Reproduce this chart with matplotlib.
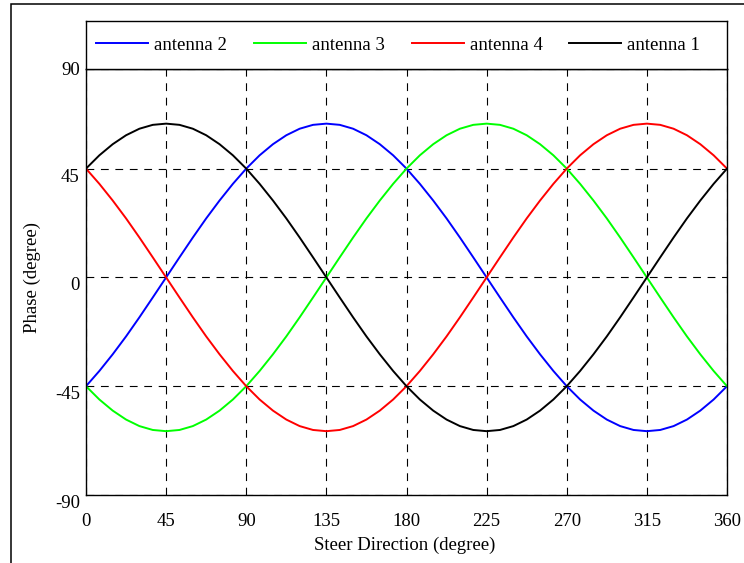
import matplotlib.pyplot as plt
from matplotlib.patches import Rectangle

# Steer direction samples (degree), every 7.5 degree
steer = [0, 7.5, 15, 22.5, 30, 37.5, 45, 52.5, 60, 67.5, 75, 82.5,
         90, 97.5, 105, 112.5, 120, 127.5, 135, 142.5, 150, 157.5, 165, 172.5,
         180, 187.5, 195, 202.5, 210, 217.5, 225, 232.5, 240, 247.5, 255, 262.5,
         270, 277.5, 285, 292.5, 300, 307.5, 315, 322.5, 330, 337.5, 345, 352.5,
         360]
# Phase (degree)
antenna_1 = [45.0, 50.5, 55.1, 58.8, 61.5, 63.1, 63.6, 63.1, 61.5, 58.8, 55.1, 50.5,
             45.0, 38.7, 31.8, 24.4, 16.5, 8.3, 0.0, -8.3, -16.5, -24.4, -31.8, -38.7,
             -45.0, -50.5, -55.1, -58.8, -61.5, -63.1, -63.6, -63.1, -61.5, -58.8, -55.1, -50.5,
             -45.0, -38.7, -31.8, -24.4, -16.5, -8.3, 0.0, 8.3, 16.5, 24.4, 31.8, 38.7,
             45.0]
antenna_2 = [-45.0, -38.7, -31.8, -24.4, -16.5, -8.3, 0.0, 8.3, 16.5, 24.4, 31.8, 38.7,
             45.0, 50.5, 55.1, 58.8, 61.5, 63.1, 63.6, 63.1, 61.5, 58.8, 55.1, 50.5,
             45.0, 38.7, 31.8, 24.4, 16.5, 8.3, 0.0, -8.3, -16.5, -24.4, -31.8, -38.7,
             -45.0, -50.5, -55.1, -58.8, -61.5, -63.1, -63.6, -63.1, -61.5, -58.8, -55.1, -50.5,
             -45.0]
antenna_3 = [-45.0, -50.5, -55.1, -58.8, -61.5, -63.1, -63.6, -63.1, -61.5, -58.8, -55.1, -50.5,
             -45.0, -38.7, -31.8, -24.4, -16.5, -8.3, 0.0, 8.3, 16.5, 24.4, 31.8, 38.7,
             45.0, 50.5, 55.1, 58.8, 61.5, 63.1, 63.6, 63.1, 61.5, 58.8, 55.1, 50.5,
             45.0, 38.7, 31.8, 24.4, 16.5, 8.3, 0.0, -8.3, -16.5, -24.4, -31.8, -38.7,
             -45.0]
antenna_4 = [45.0, 38.7, 31.8, 24.4, 16.5, 8.3, 0.0, -8.3, -16.5, -24.4, -31.8, -38.7,
             -45.0, -50.5, -55.1, -58.8, -61.5, -63.1, -63.6, -63.1, -61.5, -58.8, -55.1, -50.5,
             -45.0, -38.7, -31.8, -24.4, -16.5, -8.3, 0.0, 8.3, 16.5, 24.4, 31.8, 38.7,
             45.0, 50.5, 55.1, 58.8, 61.5, 63.1, 63.6, 63.1, 61.5, 58.8, 55.1, 50.5,
             45.0]

x_ticks = [0, 45, 90, 135, 180, 225, 270, 315, 360]
y_ticks = [-90, -45, 0, 45]
y_top = 86.2  # the "90" line sits a little lower than the linear scale

plt.rcParams['font.family'] = 'Liberation Serif'
plt.rcParams['font.size'] = 13.5

W, H = 744, 563
fig = plt.figure(figsize=(W / 100, H / 100), dpi=100)


def box(l, t, r, b):
    # pixel box -> figure fraction
    return [l / W, 1 - b / H, (r - l) / W, (b - t) / H]


ax = fig.add_axes(box(86, 69, 727, 495))
leg_ax = fig.add_axes(box(86, 21, 727, 69))

series = [("antenna 2", antenna_2, "#0000ff"),
          ("antenna 3", antenna_3, "#00ff00"),
          ("antenna 4", antenna_4, "#ff0000"),
          ("antenna 1", antenna_1, "#000000")]
for name, vals, col in series:
    ax.plot(steer, vals, color=col, lw=1.4, label=name)

ax.set_xlim(0, 360)
ax.set_ylim(-90, y_top)
ax.set_xticks(x_ticks)
ax.set_yticks(y_ticks + [y_top], labels=[str(v) for v in y_ticks] + ["90"])
ax.tick_params(axis='x', length=0, pad=13)
ax.tick_params(axis='y', length=0, pad=4.5)
for lab in ax.get_yticklabels()[:-1]:
    lab.set_verticalalignment('top')
ax.grid(color='black', lw=0.8, linestyle=(0, (7, 6)))
for sp in ax.spines.values():
    sp.set_linewidth(1.0)

fig.text(32 / W, 1 - 277.5 / H, "Phase (degree)", rotation=90, ha='center', va='center')
fig.text(405 / W, 1 - 545 / H, "Steer Direction (degree)", ha='center', va='center')

# legend strip above the plot
leg_ax.set_xticks([])
leg_ax.set_yticks([])
for sp in leg_ax.spines.values():
    sp.set_linewidth(1.0)
handles, labels = ax.get_legend_handles_labels()
leg_ax.legend(handles, labels, ncol=4, loc='center left', bbox_to_anchor=(0.0156, 0.5),
              frameon=False, handlelength=2.77, handletextpad=0.32, columnspacing=1.44,
              borderpad=0, borderaxespad=0)

# outer frame (only left and top edges fall inside the image)
fig.patches.append(Rectangle((11 / W, -0.1), 1.0, 1.1 - 4 / H, transform=fig.transFigure,
                             fill=False, lw=1.1, edgecolor='black'))

fig.savefig("out.png", dpi=100)
